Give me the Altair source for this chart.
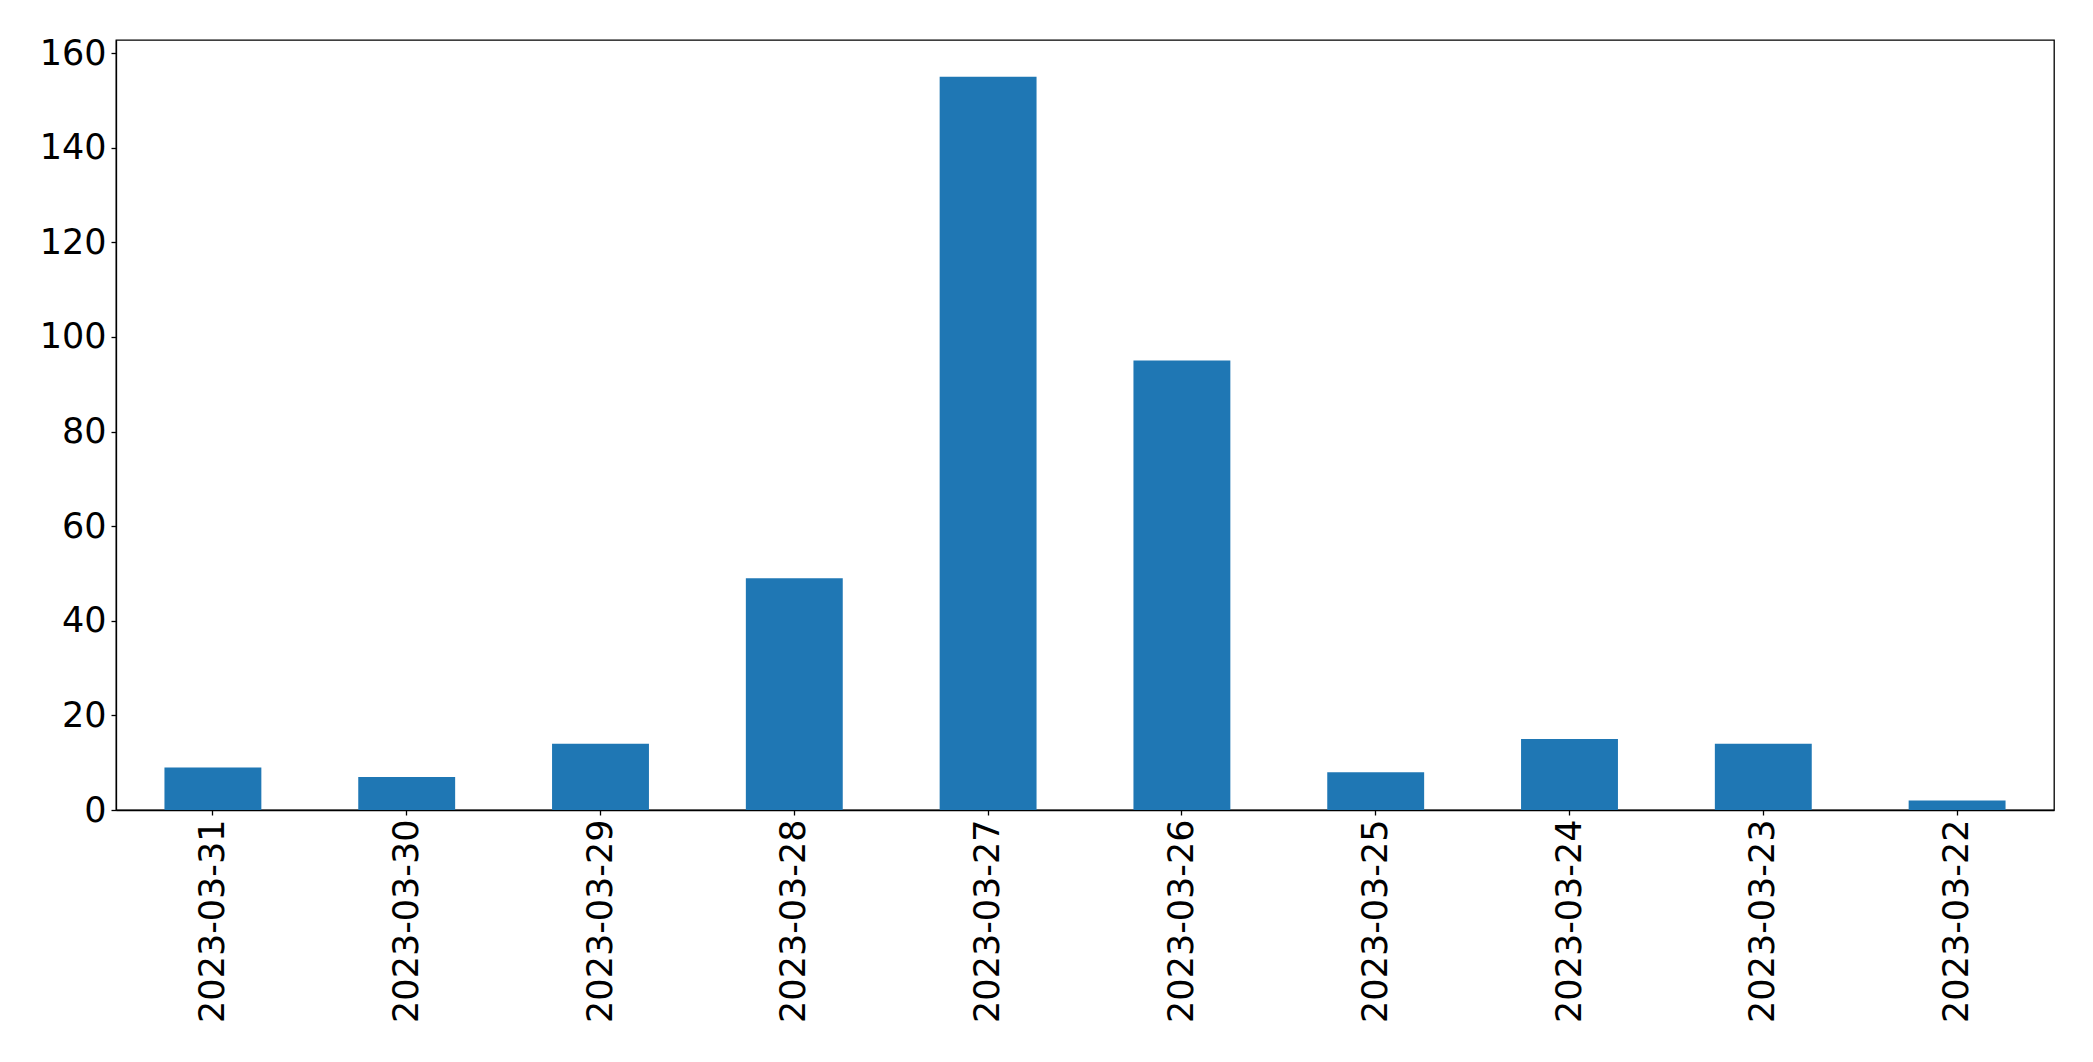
import altair as alt
import pandas as pd

dates = ["2023-03-31", "2023-03-30", "2023-03-29", "2023-03-28", "2023-03-27",
         "2023-03-26", "2023-03-25", "2023-03-24", "2023-03-23", "2023-03-22"]
counts = [9, 7, 14, 49, 155, 95, 8, 15, 14, 2]
y_ticks = [0, 20, 40, 60, 80, 100, 120, 140, 160]

df = pd.DataFrame({"date": dates, "count": counts})

FONT = "DejaVu Sans"
FS = 35

chart = alt.Chart(df).mark_bar(color="#1f77b4").encode(
    x=alt.X("date:N", sort=dates, title=None,
            scale=alt.Scale(paddingInner=0.5, paddingOuter=0.25),
            axis=alt.Axis(labelAngle=270, labelFont=FONT, labelFontSize=FS,
                          labelColor="black", tickColor="black", tickSize=5,
                          tickWidth=1.3, domainColor="black", domainWidth=1.3,
                          labelPadding=4, labelLimit=0, grid=False)),
    y=alt.Y("count:Q", title=None,
            scale=alt.Scale(domain=[0, 162.75], nice=False, zero=True),
            axis=alt.Axis(values=y_ticks, labelFont=FONT, labelFontSize=FS,
                          labelColor="black", tickColor="black", tickSize=5,
                          tickWidth=1.3, domainColor="black", domainWidth=1.3,
                          labelPadding=5, grid=False)),
).properties(
    width=1938, height=770,
    autosize=alt.AutoSizeParams(type="none"),
    padding={"left": 108, "top": 32, "right": 31, "bottom": 244},
).configure_view(
    stroke="black", strokeWidth=1.3
)

chart.save("out.html", embed_options={"renderer": "svg", "actions": False})
